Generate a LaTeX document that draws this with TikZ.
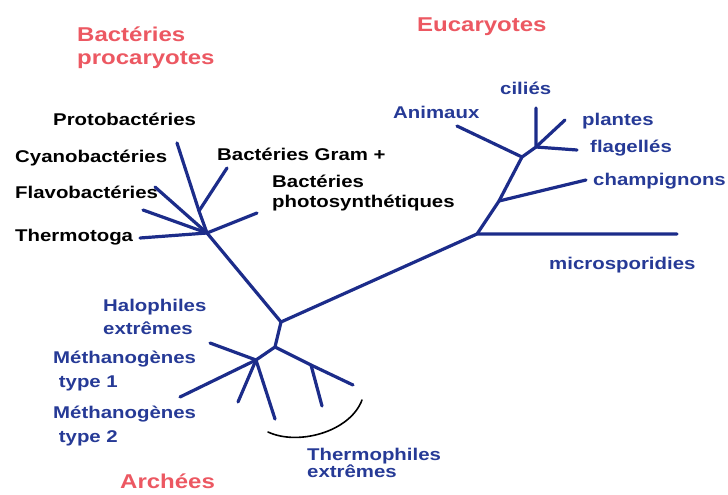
\documentclass[tikz,border=0pt]{standalone}
\usepackage{fontspec}
\newfontfamily\labfont[FakeStretch=1.2]{Liberation Sans}
\definecolor{titred}{RGB}{236,88,98}
\definecolor{labblue}{RGB}{38,58,150}
\definecolor{linblue}{RGB}{28,44,138}
\tikzset{
  branch/.style={draw=linblue,line width=3.2pt,line cap=round,line join=round},
  lab/.style={font=\labfont\bfseries\fontsize{17}{19}\selectfont,inner sep=0pt,anchor=base west},
  bluelab/.style={lab,text=labblue},
  blacklab/.style={lab,text=black},
  title/.style={font=\labfont\bfseries\fontsize{20}{22}\selectfont,inner sep=0pt,anchor=base west,text=titred},
}
\begin{document}
\begin{tikzpicture}[x=1pt,y=-1pt]
\useasboundingbox (0,0) rectangle (728,495);
% titles
\node[title] (t1) at (77,42) {Bactéries};
\node[title] (t2) at (77,65) {procaryotes};
\node[title] (t3) at (417,32) {Eucaryotes};
\node[title] (t4) at (120,488) {Archées};
% bacteria labels
\node[blacklab] (l1) at (53,125) {Protobactéries};
\node[blacklab] (l2) at (15,162) {Cyanobactéries};
\node[blacklab] (l3) at (15,198) {Flavobactéries};
\node[blacklab] (l4) at (15,241) {Thermotoga};
\node[blacklab] (l5) at (217,160) {Bactéries Gram +};
\node[blacklab] (l6) at (272,187) {Bactéries};
\node[blacklab] (l7) at (272,207) {photosynthétiques};
% eukaryote labels
\node[bluelab] (e1) at (500,95) {ciliés};
\node[bluelab] (e2) at (393,118) {Animaux};
\node[bluelab] (e3) at (582,125) {plantes};
\node[bluelab] (e4) at (590,152) {flagellés};
\node[bluelab] (e5) at (593,185) {champignons};
\node[bluelab] (e6) at (549,269) {microsporidies};
% archaea labels
\node[bluelab] (a1) at (103,311) {Halophiles};
\node[bluelab] (a2) at (103,334) {extrêmes};
\node[bluelab] (a3) at (53,363) {Méthanogènes};
\node[bluelab] (a4) at (53,387) {\ type 1};
\node[bluelab] (a5) at (53,418) {Méthanogènes};
\node[bluelab] (a6) at (53,442) {\ type 2};
\node[bluelab] (a7) at (307,460) {Thermophiles};
\node[bluelab] (a8) at (307,477) {extrêmes};
% tree coordinates
\coordinate (bh) at (207,233);
\coordinate (bs) at (199,211);
\coordinate (bProto) at (177,143);
\coordinate (bGram) at (227,168);
\coordinate (bCyano) at (155,187);
\coordinate (bFlavo) at (143,210);
\coordinate (bThermo) at (140,238);
\coordinate (bPhoto) at (257,213);
\coordinate (root) at (281,322);
\coordinate (eh) at (477,234);
\coordinate (eMicro) at (677,234);
\coordinate (ec) at (499,201);
\coordinate (eChamp) at (586,180);
\coordinate (ea) at (522,157);
\coordinate (eAnim) at (457,126);
\coordinate (ep) at (536,147);
\coordinate (eCil) at (536,108);
\coordinate (ePlant) at (565,120);
\coordinate (eFlag) at (577,150);
\coordinate (ah2) at (275,347);
\coordinate (ah3) at (256,360);
\coordinate (aHalo) at (210,343);
\coordinate (aMeth) at (180,397);
\coordinate (aD1) at (238,402);
\coordinate (aD2) at (275,419);
\coordinate (th) at (311,365);
\coordinate (aT1) at (353,385);
\coordinate (aT2) at (322,406);
\coordinate (arcA) at (268,432);
\coordinate (arcB) at (362,400);
% bacteria branches
\draw[branch] (bProto) -- (bs) -- (bh);
\draw[branch] (bGram) -- (bs);
\draw[branch] (bCyano) -- (bh);
\draw[branch] (bFlavo) -- (bh);
\draw[branch] (bThermo) -- (bh);
\draw[branch] (bPhoto) -- (bh);
\draw[branch] (bh) -- (root);
% eukaryote branches
\draw[branch] (root) -- (eh) -- (eMicro);
\draw[branch] (eh) -- (ec) -- (ea) -- (ep) -- (eCil);
\draw[branch] (ec) -- (eChamp);
\draw[branch] (ea) -- (eAnim);
\draw[branch] (ep) -- (ePlant);
\draw[branch] (ep) -- (eFlag);
% archaea branches
\draw[branch] (root) -- (ah2) -- (ah3);
\draw[branch] (aHalo) -- (ah3);
\draw[branch] (aMeth) -- (ah3);
\draw[branch] (ah3) -- (aD1);
\draw[branch] (ah3) -- (aD2);
\draw[branch] (ah2) -- (th) -- (aT1);
\draw[branch] (th) -- (aT2);
% bracket arc
\draw[black,line width=1.6pt,line cap=round] (arcA) .. controls (298,446) and (350,432) .. (arcB);
\end{tikzpicture}
\end{document}
